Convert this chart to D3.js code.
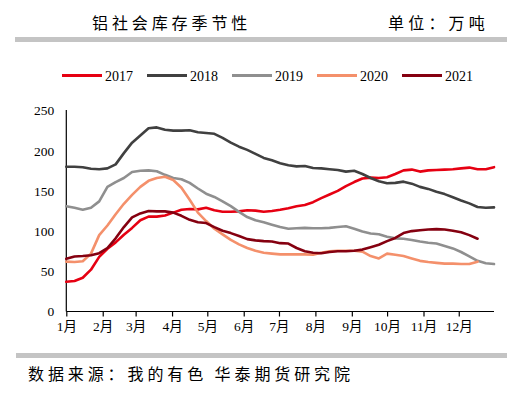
<!DOCTYPE html>
<html><head><meta charset="utf-8">
<script src="https://cdn.jsdelivr.net/npm/d3@7"></script>
<style>
body{margin:0;background:#fff;}
svg{display:block;}
text{font-family:"Liberation Serif","Times New Roman","Noto Sans CJK SC",serif;fill:#000;}
.cn{font-family:"Noto Sans CJK SC",sans-serif;}
</style></head>
<body><svg id="c" width="528" height="403"></svg>
<script>
const title = "铝社会库存季节性";
const unit = "单位：万吨";
const source = "数据来源：我的有色 华泰期货研究院";
const years = ["2017","2018","2019","2020","2021"];
const colors = ["#e60012","#404040","#8f8f8f","#f4906b","#850010"];
const yTicks = [0,50,100,150,200,250];

const s2017 = [37,38,42,52,68,78,86,95.5,104,113.5,118,118,119.5,123,126.5,127.5,127,129,126,124,124,124.5,126,125.5,124,125,126.5,128.5,131,132.5,136,141,145.5,150,156,161,165.5,166.5,166,167,171,175.5,176.5,174,175.5,176,176.5,177,178,179,177,177,179.5];
const s2018 = [180,180,179.5,177.5,177,178,183,197,210,219,228,229,226,225,225,225.5,223,222,221,216,210,205,201,196,191,188,184.5,182,180.5,181,178.5,178,177,176,174,175,171,166,162,159.5,160,161.5,159,155,152.5,149,146,142,138,134.5,130,129,129.5];
const s2019 = [131,129,126.5,129,137,155,161,166,173.5,175,175.5,174.5,170,166,164.5,160,153,146.5,142.5,137,131,124,117.5,113.5,111,108,105,103,103.5,104,103.5,103.5,104,105,106,103,99.5,97,96,93,91,90.5,89,87,85.5,84.5,81.5,78.5,74,68.5,63,60,59];
const s2020 = [62,61.5,62.5,72,95,107,121,134,145,155,162.5,166,167.5,163.5,154,139,123,112.5,103,96,89,83.5,79,75.5,73,72,71,71,71,71,70.5,73,75,75.5,75.5,75.5,74.5,69,66,72,70.5,69,66,63,61.5,60.5,59.5,59.5,59,59,62];
const s2021 = [65.5,68.5,69,70,72.5,79,91,105,117,122,125,124.5,124.5,123,119,114,111,110,105,100.5,97.5,94,90,88.5,87.5,87,85,84.5,79,75,73,72.5,74,75,75,75.5,77,80,83,87.5,91.5,97.5,100,101,102,102.5,102,100.5,98.5,95,90.5];
const series = [s2017,s2018,s2019,s2020,s2021];

const svg = d3.select("#c");
// header
svg.append("text").attr("class","cn").attr("x",92).attr("y",29).attr("font-size",16).attr("letter-spacing","3.9px").text(title);
svg.append("text").attr("class","cn").attr("x",388).attr("y",29).attr("font-size",16).attr("letter-spacing","4.2px").text(unit);
svg.append("rect").attr("x",15).attr("y",37).attr("width",492).attr("height",5).attr("fill","#c4c4c4");
svg.append("rect").attr("x",16).attr("y",353).attr("width",491).attr("height",5).attr("fill","#c4c4c4");
svg.append("text").attr("class","cn").attr("x",28).attr("y",380).attr("font-size",16).attr("letter-spacing","3.9px").text(source);

const start = new Date(2021,0,1), end = new Date(2021,11,31);
const x = d3.scaleTime().domain([start,end]).range([66.3,494]);
const y = d3.scaleLinear().domain([0,250]).range([311.5,110.5]);
const dateOf = i => d3.timeDay.offset(start, 7*i);

// y axis
const ya = svg.append("g").attr("transform","translate(66.3,0)")
  .call(d3.axisLeft(y).tickValues(yTicks).tickSize(0).tickPadding(12));
ya.select(".domain").attr("stroke","#000").attr("stroke-width",1.2).attr("d","M0,110V311.5");
ya.selectAll("text").attr("font-size",13.5).attr("font-family","Liberation Serif");

// x axis
const xa = svg.append("g").attr("transform","translate(0,311.5)")
  .call(d3.axisBottom(x).ticks(d3.timeMonth.every(1)).tickSize(5).tickPadding(5)
    .tickFormat(d => (d.getMonth()+1)+"月"));
xa.select(".domain").attr("stroke","#000").attr("stroke-width",1.2).attr("d","M66.3,0H494");
xa.selectAll(".tick line").attr("stroke","#000").attr("stroke-width",1.2);
xa.selectAll("text").attr("font-size",13.5).attr("font-family","Liberation Serif, Noto Sans CJK SC");

// lines
const line = d3.line().x((d,i)=>x(dateOf(i))).y(d=>y(d)).curve(d3.curveLinear);
series.forEach((s,k)=>{
  svg.append("path").datum(s).attr("d",line).attr("fill","none")
    .attr("stroke",colors[k]).attr("stroke-width",2.6).attr("stroke-linejoin","round").attr("stroke-linecap","round");
});

// legend
const lg = svg.append("g");
years.forEach((yr,k)=>{
  const lx = 62 + k*85;
  lg.append("line").attr("x1",lx).attr("x2",lx+40).attr("y1",75.5).attr("y2",75.5)
    .attr("stroke",colors[k]).attr("stroke-width",3);
  lg.append("text").attr("x",lx+43).attr("y",80.5).attr("font-size",14).text(yr);
});
</script></body></html>
